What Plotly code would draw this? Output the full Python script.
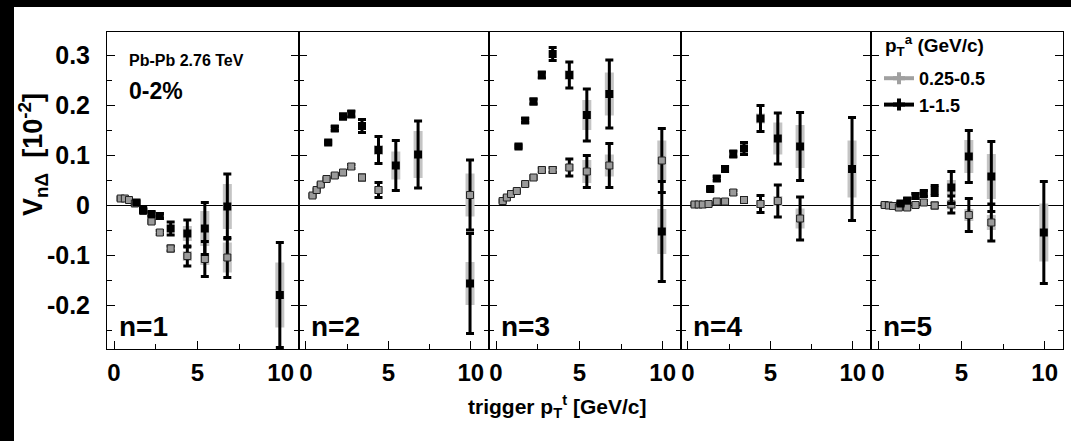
import plotly.graph_objects as go

# ---------------- data ----------------
X_GRAY = [0.4, 0.65, 0.9, 1.25, 1.75, 2.25, 2.75, 3.4, 4.4, 5.45, 6.8, 9.95]
X_BLACK = [1.35, 1.75, 2.25, 2.75, 3.4, 4.4, 5.45, 6.8, 9.95]

# associated pT 0.25-0.5 GeV/c (gray)
GRAY_N1 = [0.013, 0.013, 0.010, 0.003, -0.012, -0.033, -0.055, -0.087, -0.102, -0.108, -0.105, None]
GRAY_N2 = [0.019, 0.030, 0.041, 0.052, 0.059, 0.065, 0.077, 0.055, 0.030, None, None, 0.020]
GRAY_N3 = [0.008, 0.015, 0.022, 0.028, 0.042, 0.055, 0.070, 0.070, 0.075, 0.067, 0.079, 0.089]
GRAY_N4 = [0.001, 0.001, 0.001, 0.002, 0.007, 0.007, 0.025, 0.010, 0.002, 0.008, -0.027, None]
GRAY_N5 = [0.000, -0.001, -0.002, -0.005, -0.005, 0.000, 0.005, -0.001, 0.001, -0.020, -0.035, None]

GRAY_STAT_N1 = [0.002, 0.002, 0.002, 0.002, 0.003, 0.003, 0.004, 0.005, 0.020, 0.035, 0.040, 0]
GRAY_STAT_N2 = [0.002, 0.002, 0.002, 0.002, 0.003, 0.003, 0.004, 0.005, 0.015, 0, 0, 0.070]
GRAY_STAT_N3 = [0.002, 0.002, 0.002, 0.002, 0.003, 0.003, 0.004, 0.005, 0.017, 0.032, 0.044, 0.064]
GRAY_STAT_N4 = [0.002, 0.002, 0.002, 0.002, 0.003, 0.003, 0.004, 0.005, 0.017, 0.032, 0.043, 0]
GRAY_STAT_N5 = [0.002, 0.002, 0.002, 0.002, 0.003, 0.003, 0.004, 0.005, 0.017, 0.033, 0.037, 0]

GRAY_SYS_N1 = [0, 0, 0, 0, 0, 0, 0, 0, 0.010, 0.012, 0.030, 0]
GRAY_SYS_N2 = [0, 0, 0, 0, 0, 0, 0, 0, 0.008, 0, 0, 0.043]
GRAY_SYS_N3 = [0, 0, 0, 0, 0, 0, 0, 0, 0.008, 0.023, 0.022, 0.040]
GRAY_SYS_N4 = [0, 0, 0, 0, 0, 0, 0, 0, 0.008, 0.010, 0.020, 0]
GRAY_SYS_N5 = [0, 0, 0, 0, 0, 0, 0, 0, 0.010, 0.012, 0.015, 0]

# associated pT 1-1.5 GeV/c (black)
BLACK_N1 = [0.005, -0.010, -0.018, -0.022, -0.047, -0.057, -0.047, -0.003, -0.180]
BLACK_N2 = [0.125, 0.153, 0.177, 0.182, 0.158, 0.110, 0.079, 0.101, -0.157]
BLACK_N3 = [0.117, 0.169, 0.207, 0.260, 0.302, 0.260, 0.180, 0.222, -0.053]
BLACK_N4 = [0.032, 0.053, 0.072, 0.102, 0.113, 0.173, 0.133, 0.117, 0.072]
BLACK_N5 = [0.003, 0.009, 0.018, 0.023, 0.029, 0.035, 0.097, 0.057, -0.055]

BLACK_STAT_N1 = [0.003, 0.003, 0.004, 0.005, 0.013, 0.027, 0.052, 0.065, 0.105]
BLACK_STAT_N2 = [0.003, 0.004, 0.005, 0.006, 0.013, 0.027, 0.050, 0.067, 0.100]
BLACK_STAT_N3 = [0.003, 0.004, 0.005, 0.006, 0.013, 0.026, 0.052, 0.068, 0.100]
BLACK_STAT_N4 = [0.003, 0.004, 0.005, 0.006, 0.012, 0.026, 0.051, 0.068, 0.103]
BLACK_STAT_N5 = [0.003, 0.004, 0.005, 0.006, 0.010, 0.032, 0.052, 0.070, 0.102]

BLACK_SYS_N1 = [0, 0, 0, 0, 0, 0.015, 0.035, 0.045, 0.065]
BLACK_SYS_N2 = [0, 0, 0, 0, 0, 0.010, 0.028, 0.047, 0.043]
BLACK_SYS_N3 = [0, 0, 0, 0, 0, 0.010, 0.030, 0.043, 0.045]
BLACK_SYS_N4 = [0, 0, 0, 0, 0, 0.010, 0.032, 0.043, 0.057]
BLACK_SYS_N5 = [0, 0, 0, 0, 0, 0.015, 0.033, 0.045, 0.058]

PANEL_LABELS = ["n=1", "n=2", "n=3", "n=4", "n=5"]
X_TICKS = [0, 5, 10]
X_TICK_LABELS = ["0", "5", "10"]
Y_TICKS = [-0.2, -0.1, 0, 0.1, 0.2, 0.3]
Y_TICK_LABELS = ["-0.2", "-0.1", "0", "0.1", "0.2", "0.3"]
SERIES_NAMES = ["0.25-0.5", "1-1.5"]

GRAY = [GRAY_N1, GRAY_N2, GRAY_N3, GRAY_N4, GRAY_N5]
GRAY_STAT = [GRAY_STAT_N1, GRAY_STAT_N2, GRAY_STAT_N3, GRAY_STAT_N4, GRAY_STAT_N5]
GRAY_SYS = [GRAY_SYS_N1, GRAY_SYS_N2, GRAY_SYS_N3, GRAY_SYS_N4, GRAY_SYS_N5]
BLACK = [BLACK_N1, BLACK_N2, BLACK_N3, BLACK_N4, BLACK_N5]
BLACK_STAT = [BLACK_STAT_N1, BLACK_STAT_N2, BLACK_STAT_N3, BLACK_STAT_N4, BLACK_STAT_N5]
BLACK_SYS = [BLACK_SYS_N1, BLACK_SYS_N2, BLACK_SYS_N3, BLACK_SYS_N4, BLACK_SYS_N5]

# ---------------- layout geometry (pixels) ----------------
W, H = 1071, 441
EDGES = [107, 299, 489, 681, 871, 1063]
TOP, BOTTOM = 32, 349
FONT = "Liberation Sans, Arial, Helvetica, sans-serif"
SYS_COLOR = "#c4c4c4"
GRAY_COLOR = "#9a9a9a"


def px(x):
    return x / W


def py(y):
    return 1 - y / H


fig = go.Figure()
layout = dict(
    width=W, height=H,
    margin=dict(l=0, r=0, t=0, b=0),
    paper_bgcolor="white", plot_bgcolor="white",
    font=dict(family=FONT, color="black"),
    showlegend=True,
)

for i in range(5):
    sfx = "" if i == 0 else str(i + 1)
    xa, ya = "x" + sfx, "y" + sfx
    # systematic boxes
    fig.add_trace(go.Scatter(
        x=X_GRAY, y=GRAY[i], mode="markers", xaxis=xa, yaxis=ya,
        marker=dict(size=1, color="rgba(0,0,0,0)"), showlegend=False, hoverinfo="skip",
        error_y=dict(type="data", array=GRAY_SYS[i], color=SYS_COLOR, thickness=9, width=0)))
    fig.add_trace(go.Scatter(
        x=X_BLACK, y=BLACK[i], mode="markers", xaxis=xa, yaxis=ya,
        marker=dict(size=1, color="rgba(0,0,0,0)"), showlegend=False, hoverinfo="skip",
        error_y=dict(type="data", array=BLACK_SYS[i], color=SYS_COLOR, thickness=9, width=0)))
    # gray points
    fig.add_trace(go.Scatter(
        x=X_GRAY, y=GRAY[i], mode="markers", xaxis=xa, yaxis=ya, showlegend=False,
        marker=dict(symbol="square", size=7, color=GRAY_COLOR, line=dict(color="#222", width=1)),
        error_y=dict(type="data", array=GRAY_STAT[i], color="black", thickness=3, width=4)))
    # black points
    fig.add_trace(go.Scatter(
        x=X_BLACK, y=BLACK[i], mode="markers", xaxis=xa, yaxis=ya, showlegend=False,
        marker=dict(symbol="square", size=8, color="black", line=dict(color="black", width=0)),
        error_y=dict(type="data", array=BLACK_STAT[i], color="black", thickness=3, width=4)))

    layout["xaxis" + sfx] = dict(
        domain=[px(EDGES[i]), px(EDGES[i + 1])], anchor=ya, range=[-0.42, 11.1],
        tickmode="array", tickvals=X_TICKS, ticktext=X_TICK_LABELS,
        ticks="inside", ticklen=8, tickwidth=1, tickcolor="black",
        minor=dict(tickmode="linear", tick0=0, dtick=2.5, ticks="inside", ticklen=5, tickcolor="black"),
        showline=True, mirror=True, linecolor="black", linewidth=1,
        showgrid=False, zeroline=False, ticklabelstandoff=2,
        tickfont=dict(family=FONT, size=24, color="black", weight="bold"))
    layout["yaxis" + sfx] = dict(
        domain=[py(BOTTOM), py(TOP)], anchor=xa, range=[-0.288, 0.346],
        tickmode="array", tickvals=Y_TICKS, ticktext=Y_TICK_LABELS,
        ticks="inside", ticklen=8, tickwidth=1, tickcolor="black",
        minor=dict(tickmode="linear", tick0=0, dtick=0.05, ticks="inside", ticklen=5, tickcolor="black"),
        showline=True, mirror="ticks", linecolor="black", linewidth=1,
        showgrid=False, zeroline=True, zerolinecolor="black", zerolinewidth=1,
        showticklabels=(i == 0), ticklabelstandoff=11,
        tickfont=dict(family=FONT, size=25, color="black", weight="bold"))

# legend entries
fig.add_trace(go.Scatter(
    x=[None], y=[None], mode="lines+markers", name=SERIES_NAMES[0],
    line=dict(color="#a0a0a0", width=4),
    marker=dict(symbol="cross", size=10, color="#a0a0a0")))
fig.add_trace(go.Scatter(
    x=[None], y=[None], mode="lines+markers", name=SERIES_NAMES[1],
    line=dict(color="black", width=4),
    marker=dict(symbol="cross", size=10, color="black")))

layout["legend"] = dict(
    x=px(879), y=py(60), xanchor="left", yanchor="top",
    bgcolor="rgba(0,0,0,0)", borderwidth=0, tracegroupgap=0,
    font=dict(family=FONT, size=18, color="black", weight="bold"),
    itemwidth=30,
)

annotations = []
for i in range(5):
    annotations.append(dict(
        x=px(EDGES[i] + 10), y=py(326), xref="paper", yref="paper",
        xanchor="left", yanchor="middle", showarrow=False,
        text="<b>%s</b>" % PANEL_LABELS[i],
        font=dict(family=FONT, size=28, color="black")))
annotations += [
    dict(x=px(883), y=py(45), xref="paper", yref="paper", xanchor="left", yanchor="middle",
         showarrow=False, text="<b>p<sub>T</sub><sup>a</sup> (GeV/c)</b>",
         font=dict(family=FONT, size=19, color="black")),
    dict(x=px(127), y=py(60), xref="paper", yref="paper", xanchor="left", yanchor="middle",
         showarrow=False, text="<b>Pb-Pb 2.76 TeV</b>", font=dict(family=FONT, size=16, color="black")),
    dict(x=px(127), y=py(91), xref="paper", yref="paper", xanchor="left", yanchor="middle",
         showarrow=False, text="<b>0-2%</b>", font=dict(family=FONT, size=23, color="black")),
    dict(x=px(557), y=py(406), xref="paper", yref="paper", xanchor="center", yanchor="middle",
         showarrow=False, text="<b>trigger p<sub>T</sub><sup>t</sup> [GeV/c]</b>",
         font=dict(family=FONT, size=21, color="black")),
    dict(x=px(33), y=py(155), xref="paper", yref="paper", xanchor="center", yanchor="middle",
         showarrow=False, textangle=-90, text="<b>V<sub>nΔ</sub>&nbsp;&nbsp;[10<sup>-2</sup>]</b>",
         font=dict(family=FONT, size=27, color="black")),
]
layout["annotations"] = annotations
layout["shapes"] = [
    dict(type="rect", xref="paper", yref="paper", x0=0, x1=px(14), y0=0, y1=1,
         fillcolor="black", line=dict(width=0), layer="above"),
    dict(type="rect", xref="paper", yref="paper", x0=0, x1=1, y0=py(7), y1=1,
         fillcolor="black", line=dict(width=0), layer="above"),
]

fig.update_layout(**layout)
fig.write_html("out.html")
